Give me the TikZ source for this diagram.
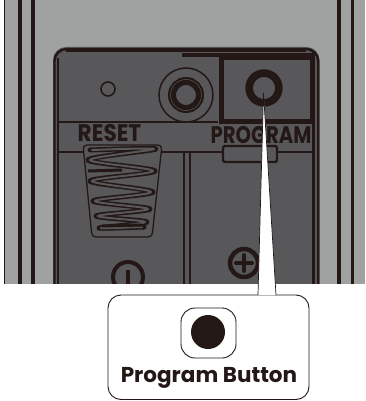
\documentclass[tikz,border=0pt]{standalone}
\usepackage{fontspec}
\setmainfont{Poppins}
\definecolor{body}{HTML}{9FA2A1}
\definecolor{panel}{HTML}{58575A}
\definecolor{ink}{HTML}{231815}
\tikzset{
  px/.style={x=1pt,y=-1pt},
  ink1/.style={draw=ink,line width=1.3pt},
  ink2/.style={draw=ink,line width=2.2pt},
  stamp/.style={font=\bfseries\fontsize{24}{24}\selectfont,text=ink,inner sep=0pt},
}
\begin{document}
\begin{tikzpicture}[px]
\useasboundingbox (0,0) rectangle (365,401);
\fill[white] (0,0) rectangle (365,401);
% casing
\fill[body] (4,0) rectangle (365,284);
\draw[ink,line width=.8pt] (4,0) -- (4,284);
\foreach \x/\w in {20/3.5,33/3.5,339/3.5,352.5/3}{\draw[draw=ink,line width=\w pt] (\x,0) -- (\x,284);}
% panel
\begin{scope}
\clip (0,0) rectangle (365,284);
\fill[panel,rounded corners=13pt] (53,47) -- (319.5,47) -- (319.5,300) -- (53,300) -- cycle;
\draw[draw=ink,line width=2.4pt,rounded corners=12pt] (54.5,49) -- (318.2,49) -- (318.2,300) -- (54.5,300) -- cycle;
\draw[draw=ink,line width=4pt] (66,50) -- (306,50);
\draw[draw=ink,line width=4pt] (182,55.5) -- (314,55.5);
\draw[ink1] (58,58) -- (58,284);
\draw[ink2] (313.5,52) -- (313.5,284);
\draw[ink1] (57,122) -- (218,122);
\draw[ink2] (58,152) -- (313,152);
\draw[ink1] (184,152) -- (184,284);
\draw[ink1] (190,152) -- (190,284);
\end{scope}
% left hole and jack
\node[circle,draw=ink,line width=1.6pt,minimum size=14pt,inner sep=0pt] (hole) at (108,89) {};
\node[circle,draw=ink,line width=1.5pt,minimum size=54pt,inner sep=0pt] (jackA) at (186,95) {};
\node[circle,draw=ink,line width=8pt,minimum size=28pt,inner sep=0pt] (jackB) at (186,95) {};
\node[circle,draw=panel,line width=.5pt,minimum size=31pt,inner sep=0pt] (jackC) at (186,95) {};
% program bay
\draw[draw=ink,line width=5pt,fill=panel] (221,57.5) rectangle (312,121.5);
\node[circle,draw=ink,line width=7.7pt,minimum size=29.7pt,inner sep=0pt,fill=panel] (btn) at (264,88) {};
% contact slot and labels
\draw[ink2,fill=panel,rounded corners=1.5pt] (223,146) rectangle (277,162);
\node[stamp,xscale=.9] (reset) at (109.5,133.5) {RESET};
\node[stamp,xscale=.82] (prog) at (261,135.5) {PROGRAM};
% spring
\draw[ink1,rounded corners=4pt,fill=panel] (83,145) -- (162,145) -- (152,237) -- (92,237) -- cycle;
\draw[ink,line width=5pt,line cap=round,line join=round] plot[smooth,tension=.55] coordinates {(90,150) (156,149) (88,160) (155,171) (90,181) (153,192) (93,201) (150,209) (96,216) (147,222) (99,228) (144,227)};
\draw[panel,line width=2pt,line cap=round,line join=round] plot[smooth,tension=.55] coordinates {(92,150) (154,149) (90,160) (153,171) (92,181) (151,192) (95,201) (148,209) (98,216) (145,222) (101,228) (142,227)};
\draw[ink,line width=3pt] (88,171) -- (122,170);
\draw[ink,line width=3pt] (102,226) -- (142,225);
% terminals
\node[circle,draw=ink,line width=4pt,minimum size=30pt,inner sep=0pt] (minus) at (128,277) {};
\draw[ink,line width=3.5pt] (128,270) -- (128,284);
\node[circle,draw=ink,line width=4.5pt,minimum size=28pt,inner sep=0pt] (plus) at (244,263) {};
\draw[ink,line width=4pt,line cap=round] (236,263) -- (252,263) (244,255) -- (244,271);
% callout
\fill[white] (0,284) rectangle (365,401);
\draw[ink,line width=.9pt,fill=white,rounded corners=13pt] (108,295) rectangle (309,399.5);
\coordinate (tipL) at (258,295);
\coordinate (tipR) at (276,295);
\coordinate (tip) at (263.5,93);
\fill[white] (tip) -- (tipR) -- (tipL) -- cycle;
\draw[ink,line width=.7pt] (tipL) -- (tip) -- (tipR);
\draw[ink,line width=.9pt,rounded corners=14pt] (181,308) rectangle (236,358);
\node[circle,fill=ink,minimum size=34pt,inner sep=0pt] (dot) at (208,332) {};
\node[font=\bfseries\fontsize{21.5}{21.5}\selectfont,text=ink,inner sep=0pt] (cap) at (209,378) {Program Button};
\end{tikzpicture}
\end{document}
